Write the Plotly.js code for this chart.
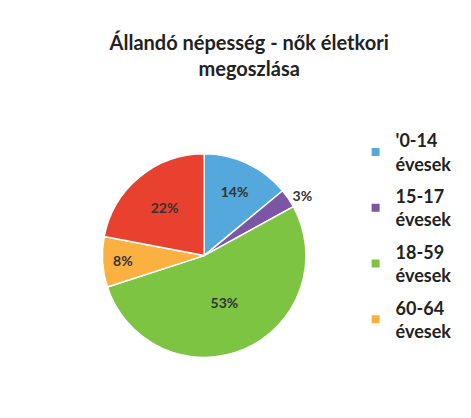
<!DOCTYPE html>
<html><head><meta charset="utf-8">
<script src="https://cdn.plot.ly/plotly-3.0.1.min.js"></script>
<style>body{margin:0;background:#fff}#c{width:471px;height:418px}</style>
</head><body><div id="c"></div>
<script>
const categories = ["'0-14 évesek", "15-17 évesek", "18-59 évesek", "60-64 évesek", "65- évesek"];
const values = [14, 3, 53, 8, 22];
const legendLabels = ["'0-14<br>évesek", "15-17<br>évesek", "18-59<br>évesek", "60-64<br>évesek"];
const colors = ["#55A8DC", "#7D55A6", "#7DC443", "#FBB042", "#E8412F"];

const pie = {
  type: 'pie', labels: categories, values: values, sort: false,
  direction: 'clockwise', rotation: 0, showlegend: false,
  marker: {colors: colors, line: {color: '#ffffff', width: 1.5}},
  texttemplate: '%{value}%', textinfo: 'text',
  textposition: ['inside', 'outside', 'inside', 'inside', 'inside'],
  textfont: {family: 'Lato, sans-serif', size: 14, color: '#333333', weight: 'bold'},
  insidetextorientation: 'horizontal',
  domain: {x: [0.215, 0.652], y: [0.145, 0.632]},
  hoverinfo: 'label+percent'
};
const legendTraces = legendLabels.map((l, i) => ({
  type: 'scatter', mode: 'markers', x: [null], y: [null], name: l,
  legendgroup: 'g' + i,
  marker: {symbol: 'square', size: 8, color: colors[i]}, showlegend: true
}));

Plotly.newPlot('c', [pie, ...legendTraces], {
  width: 471, height: 418,
  margin: {l: 0, r: 0, t: 0, b: 0},
  paper_bgcolor: '#ffffff', plot_bgcolor: '#ffffff',
  xaxis: {visible: false}, yaxis: {visible: false},
  title: {text: 'Állandó népesség - nők életkori<br>megoszlása', x: 0.529, xanchor: 'center',
    y: 0.88, yanchor: 'top', yref: 'container',
    font: {family: 'Lato, sans-serif', size: 20, color: '#222222', weight: 'bold'}},
  legend: {x: 0.755, y: 0.708, xanchor: 'left', yanchor: 'top',
    font: {family: 'Lato, sans-serif', size: 18, color: '#222222', weight: 'bold'},
    itemwidth: 30, tracegroupgap: 6, bgcolor: 'rgba(0,0,0,0)'},
  showlegend: true
}, {staticPlot: true});
</script></body></html>
